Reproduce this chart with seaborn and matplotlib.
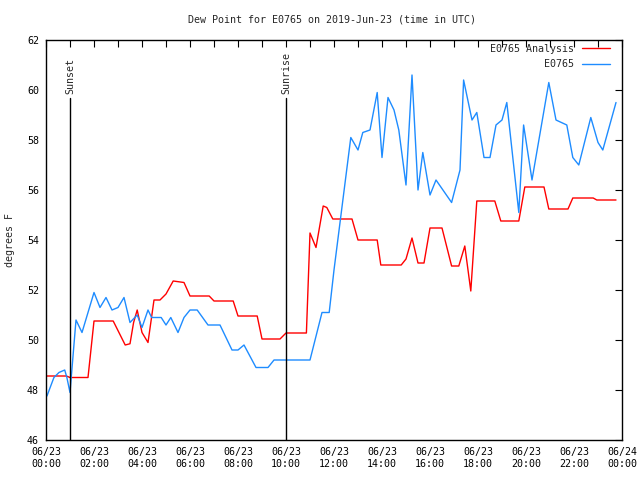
import matplotlib
matplotlib.use("Agg")
import matplotlib.pyplot as plt
import matplotlib.dates as mdates
import pandas as pd
import seaborn as sns

# ---------------- Data (hours after 2019-06-23 00:00 UTC, deg F) ----------------
analysis_hours = [0, 0.85, 1.0, 1.75, 2.0, 2.8, 3.3, 3.5, 3.65, 3.8, 4.0, 4.25, 4.5,
                  4.75, 5.0, 5.3, 5.75, 6.0, 6.8, 7.0, 7.8, 8.0, 8.8, 9.0, 9.75, 10.0,
                  10.85, 11.0, 11.25, 11.55, 11.7, 11.95, 12.75, 13.0, 13.8, 13.95,
                  14.8, 15.0, 15.25, 15.5, 15.75, 16.0, 16.5, 16.9, 17.2, 17.45, 17.7,
                  17.95, 18.7, 18.95, 19.7, 19.95, 20.75, 20.95, 21.75, 21.95, 22.8,
                  22.95, 23.75]
analysis_vals = [48.56, 48.56, 48.5, 48.5, 50.76, 50.76, 49.8, 49.85, 50.7, 51.2, 50.3,
                 49.9, 51.6, 51.6, 51.84, 52.36, 52.3, 51.76, 51.76, 51.56, 51.56, 50.96,
                 50.96, 50.04, 50.04, 50.28, 50.28, 54.28, 53.7, 55.36, 55.3, 54.84, 54.84,
                 54.0, 54.0, 53.0, 53.0, 53.24, 54.08, 53.08, 53.08, 54.48, 54.48, 52.96,
                 52.96, 53.76, 51.96, 55.56, 55.56, 54.76, 54.76, 56.12, 56.12, 55.24,
                 55.24, 55.68, 55.68, 55.6, 55.6]

station_hours = [0.04, 0.33, 0.54, 0.78, 0.87, 1.0, 1.25, 1.5, 2.0, 2.25, 2.5, 2.75, 3.0,
                 3.25, 3.5, 3.8, 4.0, 4.25, 4.4, 4.8, 5.0, 5.2, 5.5, 5.75, 6.0, 6.3, 6.75,
                 7.25, 7.75, 8.0, 8.25, 8.75, 9.25, 9.5, 11.0, 11.5, 11.8, 12.0, 12.7,
                 13.0, 13.2, 13.5, 13.8, 14.0, 14.25, 14.5, 14.7, 14.85, 15.0, 15.25,
                 15.5, 15.7, 16.0, 16.25, 16.9, 17.25, 17.4, 17.75, 17.95, 18.25, 18.5,
                 18.75, 19.0, 19.2, 19.7, 19.9, 20.25, 20.95, 21.25, 21.7, 21.95, 22.2,
                 22.7, 23.0, 23.2, 23.75]
station_vals = [47.76, 48.5, 48.7, 48.8, 48.5, 47.9, 50.8, 50.3, 51.9, 51.3, 51.7, 51.2,
                51.3, 51.7, 50.7, 51.0, 50.5, 51.2, 50.9, 50.9, 50.6, 50.9, 50.3, 50.9,
                51.2, 51.2, 50.6, 50.6, 49.6, 49.6, 49.8, 48.9, 48.9, 49.2, 49.2, 51.1,
                51.1, 52.8, 58.1, 57.6, 58.3, 58.4, 59.9, 57.3, 59.7, 59.2, 58.4, 57.3,
                56.2, 60.6, 56.0, 57.5, 55.8, 56.4, 55.5, 56.8, 60.4, 58.8, 59.1, 57.3,
                57.3, 58.6, 58.8, 59.5, 55.1, 58.6, 56.4, 60.3, 58.8, 58.6, 57.3, 57.0,
                58.9, 57.9, 57.6, 59.5]

sun_events = ["Sunset", "Sunrise"]
sun_hours = [1.0, 10.0]

# ---------------- Build frames ----------------
base = pd.Timestamp("2019-06-23 00:00")
analysis_df = pd.DataFrame({
    "time": base + pd.to_timedelta(analysis_hours, unit="h"),
    "dewpoint": analysis_vals,
})
station_df = pd.DataFrame({
    "time": base + pd.to_timedelta(station_hours, unit="h"),
    "dewpoint": station_vals,
})

# ---------------- Plot ----------------
sns.set_style("white")
plt.rcParams["font.family"] = ["DejaVu Sans Mono"]
FS = 7.2

fig = plt.figure(figsize=(6.4, 4.8), dpi=100)
ax = fig.add_axes([46 / 640, 40 / 480, 576 / 640, 400 / 480])

sns.lineplot(data=analysis_df, x="time", y="dewpoint", color="#ff0000",
             linewidth=1.0, label="E0765 Analysis", ax=ax)
sns.lineplot(data=station_df, x="time", y="dewpoint", color="#1e8cff",
             linewidth=1.0, label="E0765", ax=ax)

for name, h in zip(sun_events, sun_hours):
    t = base + pd.Timedelta(hours=h)
    ax.axvline(t, ymin=0, ymax=0.855, color="black", linewidth=1.0)
    ax.text(t, 59.86, name, rotation=90, ha="center", va="bottom", fontsize=FS)

ax.set_xlim(base, base + pd.Timedelta(hours=24))
ax.set_ylim(46, 62)
ax.set_yticks(range(46, 63, 2))
ax.xaxis.set_major_locator(mdates.HourLocator(interval=2))
ax.xaxis.set_minor_locator(mdates.HourLocator(interval=1))
ax.xaxis.set_major_formatter(mdates.DateFormatter("%m/%d\n%H:%M"))
ax.tick_params(axis="both", which="both", direction="in", length=5, width=0.8,
               top=True, right=True, labelsize=FS, pad=5, colors="black")
ax.set_xlabel("")
ax.set_ylabel("")
for s in ax.spines.values():
    s.set_color("black")
    s.set_linewidth(1.0)

leg = ax.legend(loc="upper right", bbox_to_anchor=(0.979, 0.99), markerfirst=False,
                frameon=False, fontsize=FS, handlelength=2.8, handletextpad=0.8,
                labelspacing=0.55, borderpad=0, borderaxespad=0)

fig.text(332 / 640, 1 - 20 / 480, "Dew Point for E0765 on 2019-Jun-23 (time in UTC)",
         ha="center", va="center", fontsize=FS)
fig.text(10 / 640, 0.5, "degrees F", rotation=90, ha="center", va="center", fontsize=FS)

fig.savefig("out.png", dpi=100)
